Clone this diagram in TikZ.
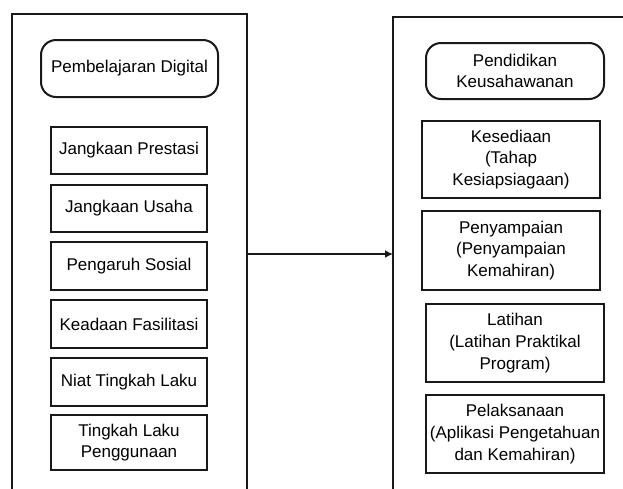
\documentclass[tikz,border=0pt]{standalone}
\usepackage{fontspec}
\setmainfont{Liberation Sans}
\usetikzlibrary{arrows.meta}

\colorlet{figLine}{black!90}
\colorlet{figFill}{white}

\begin{document}
\begin{tikzpicture}[x=1pt, y=-1pt,
    box/.style={draw=figLine, line width=2pt, fill=figFill, inner sep=0pt,
      align=center, font=\fontsize{17}{21.7}\selectfont},
    headbox/.style={box, rounded corners=15pt},
    frame/.style={draw=figLine, line width=2pt}]
        \useasboundingbox (0,0) rectangle (623,488);
        \clip (0,0) rectangle (623,488);
        \fill[white] (0,0) rectangle (623,488);

        % left frame
        \coordinate (LB) at (12,495);
        \coordinate (LT) at (12,14);
        \coordinate (LR) at (247,14);
        \coordinate (LRB) at (247,495);
        \draw[frame] (LB)--(LT)--(LR)--(LRB);
        \node[headbox, minimum width=177pt, minimum height=57pt] (digital) at (129.5,68.5)
              {Pembelajaran Digital};
        \node[box, minimum width=156pt, minimum height=47pt] (prestasi) at (129,150.5)
              {Jangkaan Prestasi};
        \node[box, minimum width=156pt, minimum height=47pt] (usaha) at (129,208.5)
              {Jangkaan Usaha};
        \node[box, minimum width=156pt, minimum height=48pt] (sosial) at (129,266)
              {Pengaruh Sosial};
        \node[box, minimum width=156pt, minimum height=48pt] (fasilitasi) at (129,324)
              {Keadaan Fasilitasi};
        \node[box, minimum width=156pt, minimum height=48pt] (niat) at (129,382)
              {Niat Tingkah Laku};
        \node[box, minimum width=156pt, minimum height=55pt] (guna) at (129,442.5)
              {Tingkah Laku\\Penggunaan};

        % right frame
        \coordinate (RB) at (393,495);
        \coordinate (RT) at (393,17);
        \coordinate (RR) at (630,17);
        \draw[frame] (RB)--(RT)--(RR);
        \node[headbox, minimum width=178pt, minimum height=56pt] (usahawan) at (515,71)
              {Pendidikan\\Keusahawanan};
        \node[box, minimum width=178pt, minimum height=77pt] (sedia) at (511,159.5)
              {Kesediaan\\(Tahap\\Kesiapsiagaan)};
        \node[box, minimum width=178pt, minimum height=79pt] (sampai) at (511,250.5)
              {Penyampaian\\(Penyampaian\\Kemahiran)};
        \node[box, minimum width=178pt, minimum height=78pt] (latih) at (515,343)
              {Latihan\\(Latihan Praktikal\\Program)};
        \node[box, minimum width=178pt, minimum height=78pt] (laksana) at (515,434)
              {Pelaksanaan\\(Aplikasi Pengetahuan\\dan Kemahiran)};

        % link
        \coordinate (out) at (247,254);
        \coordinate (in) at (393,254);
        \draw[frame, -{Latex[length=8pt, width=8pt]}] (out)--(in);
      \end{tikzpicture}
\end{document}
